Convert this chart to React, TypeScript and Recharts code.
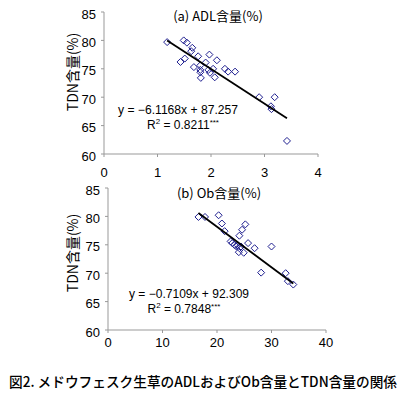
import { ScatterChart, Scatter, XAxis, YAxis } from "recharts";

// (a) ADL content vs TDN content
const adlValues = [
  1.18, 1.49, 1.55, 1.43, 1.51, 1.65, 1.63, 1.68, 1.76, 1.8, 1.8, 1.8, 1.81, 1.9,
  1.97, 1.95, 1.98, 2.04, 2.07, 2.11, 2.26, 2.32, 2.45, 2.9, 3.19, 3.12, 3.13, 3.42,
];
const adlTdn = [
  79.7, 80.0, 79.6, 76.2, 76.8, 78.7, 78.1, 75.3, 77.2, 75.6, 74.8, 74.4, 73.4, 76.1,
  77.5, 74.8, 74.3, 75.0, 73.5, 76.5, 75.0, 74.5, 74.5, 70.0, 70.0, 68.4, 67.9, 62.3,
];
const adlFitX = [1.18, 3.42];
const adlFitY = [80.0, 66.3];

// (b) Ob content vs TDN content
const obValues = [
  16.6, 17.8, 20.3, 20.9, 21.4, 22.5, 22.8, 23.2, 23.5, 23.8, 24.1, 24.4, 24.0, 24.9,
  24.1, 24.6, 25.2, 25.7, 26.9, 28.1, 30.0, 32.6, 33.0, 34.0,
];
const obTdn = [
  79.9, 79.9, 80.2, 78.75, 77.4, 75.6, 75.3, 75.0, 74.75, 74.9, 74.4, 74.7, 73.7, 73.6,
  76.6, 77.65, 78.6, 75.3, 74.4, 70.1, 74.7, 70.0, 68.6, 68.0,
];
const obFitX = [16.6, 34.0];
const obFitY = [80.6, 68.2];

const adlTicks = [0, 1, 2, 3, 4];
const obTicks = [0, 10, 20, 30, 40];
const tdnTicks = [60, 65, 70, 75, 80, 85];

const toPoints = (xs: number[], ys: number[]) => xs.map((x, i) => ({ x, y: ys[i] }));

const FONT = "'Liberation Sans', Arial, sans-serif";
const JP = "'Noto Sans CJK JP', 'Liberation Sans', sans-serif";
const AXIS = "#999";

const Diamond = (props: any) => {
  const { cx, cy } = props;
  const r = 3.5;
  return (
    <path
      d={`M${cx},${cy - r}L${cx + r},${cy}L${cx},${cy + r}L${cx - r},${cy}Z`}
      fill="none"
      stroke="#1f1f90"
      strokeWidth={1}
    />
  );
};

const NoDot = () => <g />;

interface PanelProps {
  top: number;
  left: number;
  right: number;
  xMax: number;
  xTicks: number[];
  xMargin: number;
  points: { x: number; y: number }[];
  fit: { x: number; y: number }[];
}

const Panel = ({ top, left, right, xMax, xTicks, xMargin, points, fit }: PanelProps) => (
  <div style={{ position: "absolute", top, left: 0 }}>
    <ScatterChart
      width={407}
      height={180}
      margin={{ top: 12, right, bottom: 0, left: left - 40 }}
    >
      <XAxis
        type="number"
        dataKey="x"
        domain={[0, xMax]}
        ticks={xTicks}
        height={26}
        tickSize={3}
        tickMargin={xMargin}
        axisLine={{ stroke: AXIS }}
        tickLine={{ stroke: AXIS }}
        tick={{ fill: "#000", fontSize: 13, fontFamily: FONT }}
        allowDataOverflow
      />
      <YAxis
        type="number"
        dataKey="y"
        domain={[60, 85]}
        ticks={tdnTicks}
        width={40}
        tickSize={3}
        tickMargin={5}
        axisLine={{ stroke: AXIS }}
        tickLine={{ stroke: AXIS }}
        tick={{ fill: "#000", fontSize: 13, fontFamily: FONT, dy: 2 }}
        allowDataOverflow
      />
      <Scatter data={points} shape={Diamond} isAnimationActive={false} />
      <Scatter
        data={fit}
        shape={NoDot}
        line={{ stroke: "#000", strokeWidth: 1.8 }}
        isAnimationActive={false}
      />
    </ScatterChart>
  </div>
);

const App = () => {
  return (
    <div
      style={{
        position: "fixed",
        top: 0,
        left: 0,
        width: 407,
        height: 398,
        background: "#fff",
        overflow: "hidden",
      }}
    >
      <Panel
        top={0}
        left={104}
        right={89}
        xMax={4}
        xTicks={adlTicks}
        xMargin={11}
        points={toPoints(adlValues, adlTdn)}
        fit={toPoints(adlFitX, adlFitY)}
      />
      <Panel
        top={176}
        left={108}
        right={81}
        xMax={40}
        xTicks={obTicks}
        xMargin={5}
        points={toPoints(obValues, obTdn)}
        fit={toPoints(obFitX, obFitY)}
      />
      <svg
        width={407}
        height={398}
        style={{ position: "absolute", top: 0, left: 0, pointerEvents: "none" }}
      >
        <g fontFamily={JP} fill="#000">
          <text x={218} y={21} fontSize={13} textAnchor="middle">
            (a) ADL含量(%)
          </text>
          <text x={219} y={198} fontSize={13} textAnchor="middle">
            (b) Ob含量(%)
          </text>
          <text
            x={72}
            y={72}
            fontSize={14}
            textAnchor="middle"
            dominantBaseline="central"
            transform="rotate(-90 72 72)"
          >
            TDN含量(%)
          </text>
          <text
            x={72}
            y={253}
            fontSize={14}
            textAnchor="middle"
            dominantBaseline="central"
            transform="rotate(-90 72 253)"
          >
            TDN含量(%)
          </text>
        </g>
        <g fontFamily={FONT} fontSize={12} fill="#000" textAnchor="middle">
          <text x={178} y={114} textLength={120} lengthAdjust="spacingAndGlyphs">
            y = −6.1168x + 87.257
          </text>
          <text x={183} y={129}>
            R<tspan fontSize={8} dy={-5}>2</tspan>
            <tspan dy={5}> = 0.8211</tspan>
            <tspan fontSize={8} dy={-4}>***</tspan>
          </text>
          <text x={189} y={298} textLength={120} lengthAdjust="spacingAndGlyphs">
            y = −0.7109x + 92.309
          </text>
          <text x={184} y={313}>
            R<tspan fontSize={8} dy={-5}>2</tspan>
            <tspan dy={5}> = 0.7848</tspan>
            <tspan fontSize={8} dy={-4}>***</tspan>
          </text>
        </g>
        <text
          x={203}
          y={387}
          fontFamily={JP}
          fontSize={14}
          fontWeight={500}
          textAnchor="middle"
          textLength={388}
          lengthAdjust="spacingAndGlyphs"
          fill="#000"
        >
          図2. メドウフェスク生草のADLおよびOb含量とTDN含量の関係
        </text>
      </svg>
    </div>
  );
};

export default App;
